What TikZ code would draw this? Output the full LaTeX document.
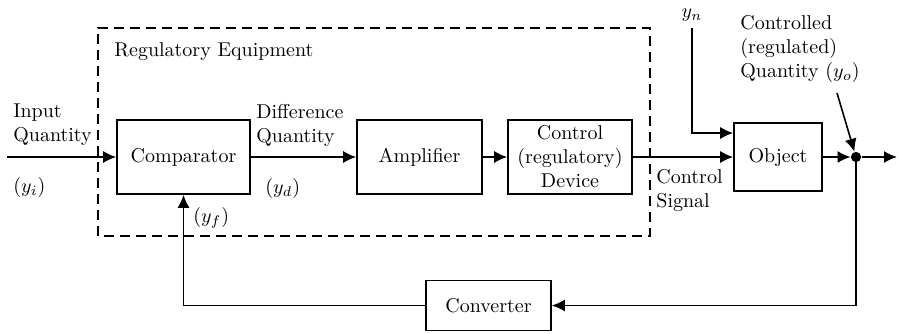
\documentclass[tikz,border=0pt]{standalone}
\usetikzlibrary{arrows.meta, positioning}

\begin{document}
\begin{tikzpicture}[x=25pt, y=25pt,
	block/.style={draw, thick, minimum height=37pt, inner sep=1pt, align=center},
	signal/.style={thick, -{Latex[length=6.5pt, width=6pt]}},
	lbl/.style={anchor=west, align=left, inner sep=0pt}]
	\useasboundingbox (0,0) rectangle (17.98, 6.66);

	%% regulatory equipment frame
	\draw[thick, dash pattern=on 5pt off 3pt] (1.96,1.94) rectangle (13.0,6.10);
	\node[lbl] (req) at (2.28,5.62) {Regulatory Equipment};

	\node[block, minimum width=66.5pt] (comp) at (3.67,3.52) {Comparator};
	\node[block, minimum width=62.5pt] (amp) at (8.39,3.52) {Amplifier};
	\node[block, minimum width=62pt] (ctrl) at (11.40,3.52) {Control\\(regulatory)\\Device};
	\node[block, minimum width=44pt, minimum height=34pt] (obj) at (15.56,3.52) {Object};
	\node[block, minimum width=62.5pt, minimum height=25pt] (conv) at (9.77,0.55) {Converter};

	\node[circle, fill, inner sep=1.8pt] (dot) at (17.12,3.52) {};
	\coordinate (in) at (0.14,3.52);
	\coordinate (out) at (17.94,3.52);
	\coordinate (tap) at (16.74,4.80);

	%% labels
	\node[lbl] (inq) at (0.26,4.16) {Input\\Quantity};
	\node[lbl] (yi) at (0.26,2.92) {($y_i$)};
	\node[lbl] (diff) at (5.12,4.16) {Difference\\Quantity};
	\node[lbl] (yd) at (5.30,2.90) {($y_d$)};
	\node[lbl] (yf) at (3.86,2.30) {($y_f$)};
	\node[lbl] (sig) at (13.12,2.84) {Control\\Signal};
	\node[inner sep=3pt] (yn) at (13.84,6.36) {$y_n$};
	\node[lbl] (yo) at (14.8,5.68) {Controlled\\(regulated)\\Quantity ($y_o$)};

	%% forward path
	\draw[signal] (in) -- (comp);
	\draw[signal] (comp) -- (amp);
	\draw[signal] (amp) -- (ctrl);
	\draw[signal] (ctrl) -- (obj);
	\draw[signal] (yn.south) |- ([yshift=12pt]obj.west);
	\draw[signal] (obj) -- (dot);
	\draw[signal] (dot) -- (out);
	\draw[signal] (tap) -- (dot);

	%% feedback
	\draw[signal] (dot) |- (conv);
	\draw[signal] (conv) -| (comp);
\end{tikzpicture}
\end{document}
